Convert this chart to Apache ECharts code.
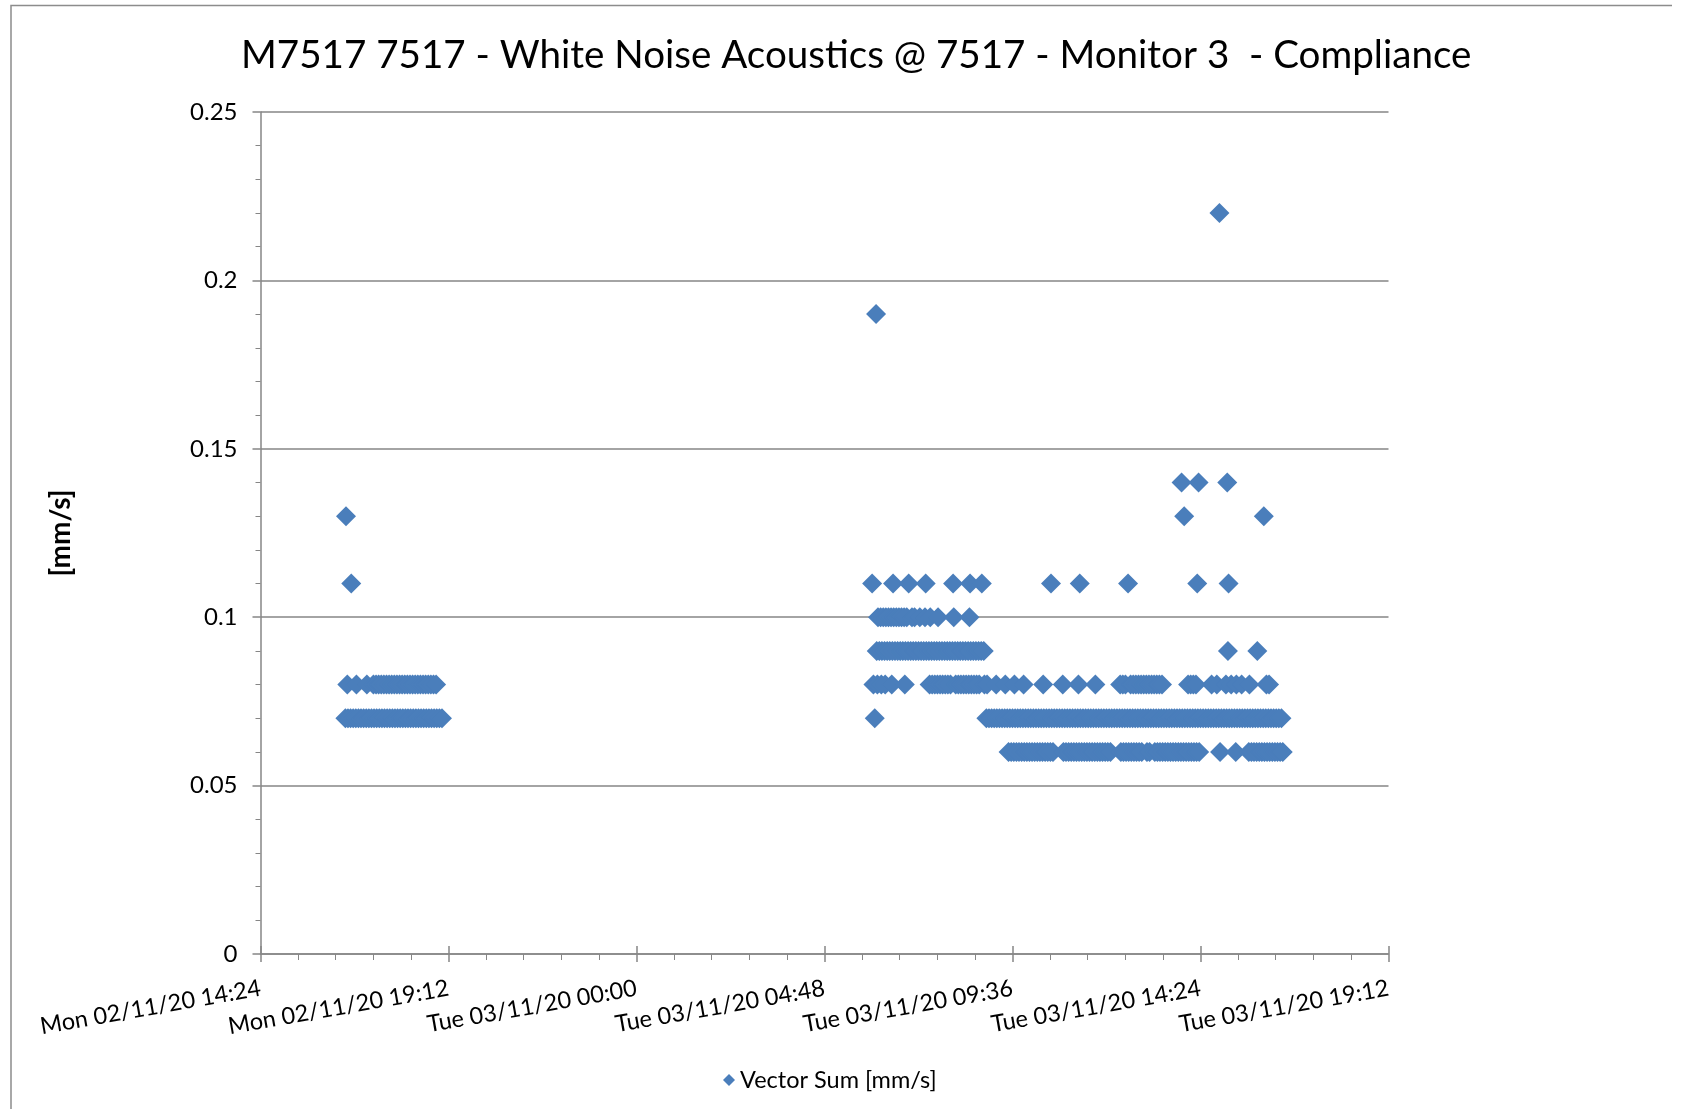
<!DOCTYPE html>
<html>
<head>
<meta charset="utf-8">
<title>M7517 Monitor 3 - Vector Sum</title>
<script src="https://cdn.jsdelivr.net/npm/echarts@6/dist/echarts.min.js"></script>
<style>
  html, body { margin: 0; padding: 0; background: #ffffff; }
  #chart { width: 1687px; height: 1109px; }
</style>
</head>
<body>
<div id="chart"></div>
<script>
// ---- Readings: Vector Sum [mm/s], grouped by level, clock times HH:MM ----
const MON = [2020, 10, 2];   // Mon 02/11/20
const TUE = [2020, 10, 3];   // Tue 03/11/20

// Monday evening session
const mon_013 = ['16:35'];
const mon_011 = ['16:43'];
const mon_008 = ['16:37', '16:51', '17:07', '17:17', '17:21', '17:25', '17:29', '17:33', '17:37',
  '17:41', '17:45', '17:49', '17:53', '17:57', '18:01', '18:05', '18:09', '18:13', '18:17',
  '18:21', '18:25', '18:29', '18:33', '18:37', '18:41', '18:45', '18:49', '18:53'];
const mon_007 = ['16:34', '16:38', '16:42', '16:46', '16:50', '16:54', '16:58', '17:02', '17:06',
  '17:10', '17:14', '17:18', '17:22', '17:26', '17:30', '17:34', '17:38', '17:42', '17:46',
  '17:50', '17:54', '17:58', '18:02', '18:06', '18:10', '18:14', '18:18', '18:22', '18:26',
  '18:30', '18:34', '18:38', '18:42', '18:46', '18:50', '18:54', '18:58', '19:02'];

// Tuesday day session
const tue_022 = ['14:53'];
const tue_019 = ['06:07'];
const tue_014 = ['13:55', '14:21', '15:05'];
const tue_013 = ['13:59', '16:01'];
const tue_011 = ['06:01', '06:33', '06:57', '07:23', '08:05', '08:31', '08:49',
  '10:35', '11:19', '12:33', '14:19', '15:07'];
const tue_010 = ['06:10', '06:14', '06:18', '06:22', '06:26', '06:30', '06:34', '06:38', '06:42',
  '06:46', '06:50', '06:54', '07:02', '07:06', '07:14', '07:22', '07:30', '07:42', '08:06', '08:30'];
const tue_009 = ['06:08', '06:12', '06:16', '06:20', '06:24', '06:28', '06:32', '06:36', '06:40',
  '06:44', '06:48', '06:52', '06:56', '07:00', '07:04', '07:08', '07:12', '07:16', '07:20',
  '07:24', '07:28', '07:32', '07:36', '07:40', '07:44', '07:48', '07:52', '07:56', '08:00',
  '08:04', '08:08', '08:12', '08:16', '08:20', '08:24', '08:28', '08:32', '08:36', '08:40',
  '08:44', '08:48', '08:52', '15:06', '15:51'];
const tue_008 = ['06:03', '06:09', '06:15', '06:21', '06:31', '06:51',
  '07:29', '07:33', '07:37', '07:41', '07:45', '07:49', '07:53', '07:57', '08:01', '08:09',
  '08:13', '08:17', '08:21', '08:25', '08:29', '08:33', '08:37', '08:41', '08:45', '08:53',
  '08:57', '09:11', '09:25', '09:39', '09:53', '10:23', '10:53', '11:17', '11:43',
  '12:21', '12:25', '12:29', '12:37', '12:41', '12:45', '12:49', '12:53', '12:57', '13:01',
  '13:05', '13:09', '13:13', '13:17', '13:21', '13:25',
  '14:05', '14:09', '14:13', '14:17', '14:41', '14:49', '15:03', '15:11', '15:19', '15:27',
  '15:39', '16:05', '16:09'];
const tue_007 = ['06:05',
  '08:56', '09:00', '09:04', '09:08', '09:12', '09:16', '09:20', '09:24', '09:28', '09:32',
  '09:36', '09:40', '09:44', '09:48', '09:52', '09:56',
  '10:00', '10:04', '10:08', '10:12', '10:16', '10:20', '10:24', '10:28', '10:32', '10:36',
  '10:40', '10:44', '10:48', '10:52', '10:56',
  '11:00', '11:04', '11:08', '11:12', '11:16', '11:20', '11:24', '11:28', '11:32', '11:36',
  '11:40', '11:44', '11:48', '11:52', '11:56',
  '12:00', '12:04', '12:08', '12:12', '12:16', '12:20', '12:24', '12:28', '12:32', '12:36',
  '12:40', '12:44', '12:48', '12:52', '12:56',
  '13:00', '13:04', '13:08', '13:12', '13:16', '13:20', '13:24', '13:28', '13:32', '13:36',
  '13:40', '13:44', '13:48', '13:52', '13:56',
  '14:00', '14:04', '14:08', '14:12', '14:16', '14:20', '14:24', '14:28', '14:32', '14:36',
  '14:40', '14:44', '14:48', '14:52', '14:56',
  '15:00', '15:04', '15:08', '15:12', '15:16', '15:20', '15:24', '15:28', '15:32', '15:36',
  '15:40', '15:44', '15:48', '15:52', '15:56',
  '16:00', '16:04', '16:08', '16:12', '16:16', '16:20', '16:24', '16:28'];
const tue_006 = ['09:30', '09:34', '09:38', '09:42', '09:46', '09:50', '09:54', '09:58',
  '10:02', '10:06', '10:10', '10:14', '10:18', '10:22', '10:26', '10:30', '10:34', '10:38',
  '10:54', '10:58', '11:02', '11:06', '11:10', '11:14', '11:18', '11:22', '11:26', '11:30',
  '11:34', '11:38', '11:42', '11:46', '11:50', '11:54', '11:58', '12:02', '12:06',
  '12:22', '12:26', '12:30', '12:34', '12:38', '12:42', '12:46', '12:50', '12:54', '13:02',
  '13:06', '13:14', '13:18', '13:22', '13:26', '13:30', '13:34', '13:38', '13:42', '13:46',
  '13:50', '13:54', '13:58', '14:02', '14:06', '14:10', '14:14', '14:18', '14:22',
  '14:54', '15:18', '15:38', '15:42', '15:46', '15:50', '15:54', '15:58', '16:02', '16:06',
  '16:10', '16:14', '16:18', '16:22', '16:26', '16:30'];

// Axis settings (time axis in ms, 4.8 h steps)
const X_MIN = Date.UTC(2020, 10, 2, 14, 24);
const X_MAX = Date.UTC(2020, 10, 3, 19, 12);
const X_STEP = 4.8 * 3600 * 1000;
const Y_TICKS = [0, 0.05, 0.1, 0.15, 0.2, 0.25];

const TITLE = 'M7517 7517 - White Noise Acoustics @ 7517 - Monitor 3  - Compliance';
const SERIES_NAME = 'Vector Sum [mm/s]';
const Y_NAME = '[mm/s]';

// ---- Build the point list ----
function stamp(day, hhmm) {
  const [h, m] = hhmm.split(':').map(Number);
  return Date.UTC(day[0], day[1], day[2], h, m);
}
const groups = [
  [MON, 0.13, mon_013], [MON, 0.11, mon_011], [MON, 0.08, mon_008], [MON, 0.07, mon_007],
  [TUE, 0.22, tue_022], [TUE, 0.19, tue_019], [TUE, 0.14, tue_014], [TUE, 0.13, tue_013],
  [TUE, 0.11, tue_011], [TUE, 0.10, tue_010], [TUE, 0.09, tue_009], [TUE, 0.08, tue_008],
  [TUE, 0.07, tue_007], [TUE, 0.06, tue_006]
];
const points = [];
groups.forEach(([day, level, times]) => {
  times.forEach(t => points.push([stamp(day, t), level]));
});
points.sort((a, b) => a[0] - b[0]);

const DAYS = ['Sun', 'Mon', 'Tue', 'Wed', 'Thu', 'Fri', 'Sat'];
const pad = n => String(n).padStart(2, '0');
function fmtTime(v) {
  const d = new Date(Math.round(v / 60000) * 60000);
  return DAYS[d.getUTCDay()] + ' ' + pad(d.getUTCDate()) + '/' + pad(d.getUTCMonth() + 1) + '/' +
    pad(d.getUTCFullYear() % 100) + ' ' + pad(d.getUTCHours()) + ':' + pad(d.getUTCMinutes());
}

const FONT = 'Lato, "Open Sans", sans-serif';
const AXIS_GREY = '#868686';
const BLUE = '#4a7ebb';

const chart = echarts.init(document.getElementById('chart'), null, { renderer: 'canvas' });
chart.setOption({
  animation: false,
  backgroundColor: '#ffffff',
  textStyle: { fontFamily: FONT, color: '#000' },
  title: {
    text: TITLE,
    left: 236,
    top: 31,
    textStyle: { fontFamily: FONT, fontSize: 38.6, fontWeight: 'normal', color: '#000' }
  },
  legend: {
    data: [SERIES_NAME],
    left: 718,
    top: 1063,
    icon: 'diamond',
    itemWidth: 12,
    itemHeight: 12,
    itemGap: 6,
    textStyle: { fontFamily: FONT, fontSize: 23.5, color: '#000' }
  },
  grid: { left: 260.5, right: 298.5, top: 112, bottom: 155, containLabel: false },
  xAxis: [{
    type: 'value',
    min: X_MIN,
    max: X_MAX,
    interval: X_STEP,
    axisLine: { show: true, lineStyle: { color: AXIS_GREY, width: 1.5 } },
    axisTick: { show: true, inside: false, length: 8, lineStyle: { color: AXIS_GREY, width: 1.5 } },
    minorTick: { show: true, splitNumber: 5, length: 6, lineStyle: { color: AXIS_GREY, width: 1 } },
    splitLine: { show: false },
    axisLabel: {
      rotate: 10,
      margin: 34,
      fontFamily: FONT,
      fontSize: 23.5,
      color: '#000',
      showMinLabel: true,
      showMaxLabel: true,
      formatter: fmtTime
    }
  }, {
    // upper half of the crossing major ticks
    type: 'value',
    position: 'bottom',
    min: X_MIN,
    max: X_MAX,
    interval: X_STEP,
    axisLine: { show: false },
    axisTick: { show: true, inside: true, length: 8, lineStyle: { color: AXIS_GREY, width: 1.5 } },
    axisLabel: { show: false },
    splitLine: { show: false }
  }],
  yAxis: {
    type: 'value',
    min: Y_TICKS[0],
    max: Y_TICKS[Y_TICKS.length - 1],
    interval: 0.05,
    name: Y_NAME,
    nameLocation: 'middle',
    nameRotate: 90,
    nameGap: 186,
    nameTextStyle: { fontFamily: FONT, fontSize: 28, fontWeight: 'bold', color: '#000' },
    axisLine: { show: true, lineStyle: { color: AXIS_GREY, width: 1.5 } },
    axisTick: { show: true, inside: false, length: 8, lineStyle: { color: AXIS_GREY, width: 1.5 } },
    minorTick: { show: true, splitNumber: 5, length: 5, lineStyle: { color: AXIS_GREY, width: 1 } },
    splitLine: { show: true, lineStyle: { color: AXIS_GREY, width: 1.5 } },
    axisLabel: {
      margin: 23,
      fontFamily: FONT,
      fontSize: 24,
      color: '#000',
      formatter: v => String(+v.toFixed(2))
    }
  },
  graphic: [{
    type: 'polyline',
    silent: true,
    shape: { points: [[11, 1109], [11, 5.5], [1672, 5.5]] },
    style: { stroke: '#8c8c8c', lineWidth: 1.5, fill: null }
  }],
  series: [{
    name: SERIES_NAME,
    type: 'scatter',
    xAxisIndex: 0,
    symbol: 'diamond',
    symbolSize: 20,
    itemStyle: { color: BLUE, opacity: 1 },
    emphasis: { disabled: true },
    data: points
  }]
});
</script>
</body>
</html>
